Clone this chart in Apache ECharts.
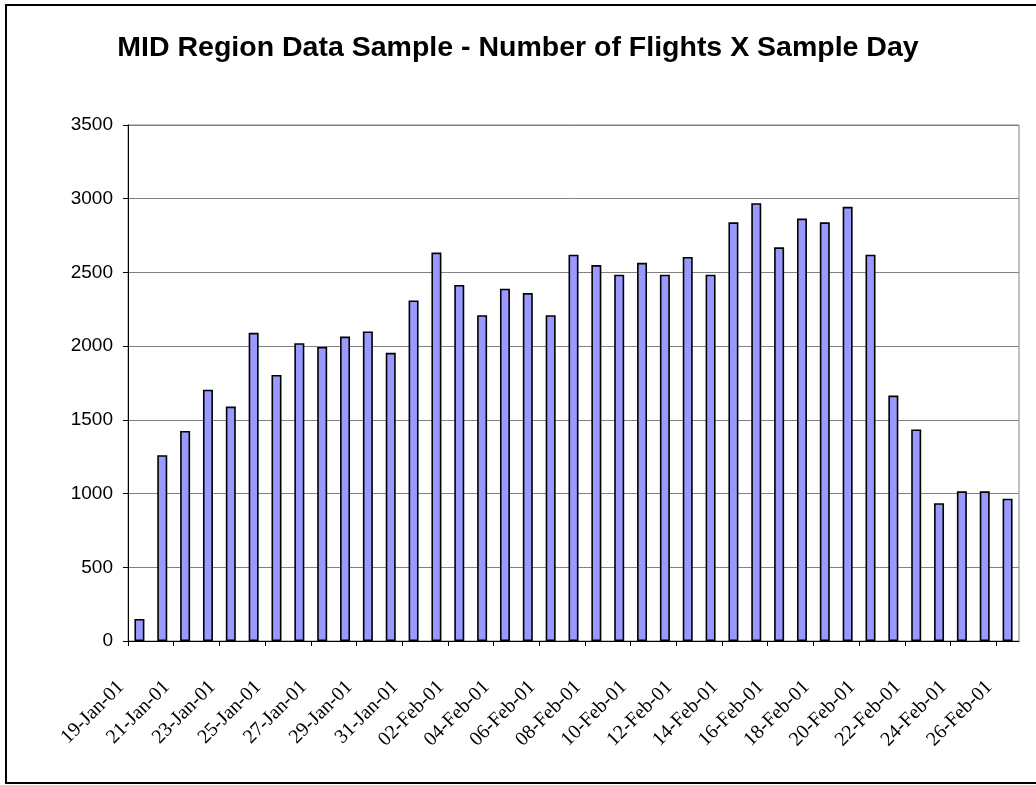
<!DOCTYPE html>
<html style="height: 100%">
    <head>
        <title>MID Region Data Sample</title>
        <meta charset="utf-8">
    </head>
    <body style="height: 100%; margin: 0; background: #fff">
        <div id="container" style="width: 1036px; height: 785px"></div>

        <script type="text/javascript" src="https://cdn.jsdelivr.net/npm/echarts@6/dist/echarts.min.js"></script>
        <script type="text/javascript">
            var dom = document.getElementById("container");
            var myChart = echarts.init(dom);

            // sample days (one bar each)
            var days = [
                '19-Jan-01', '20-Jan-01', '21-Jan-01', '22-Jan-01', '23-Jan-01', '24-Jan-01', '25-Jan-01',
                '26-Jan-01', '27-Jan-01', '28-Jan-01', '29-Jan-01', '30-Jan-01', '31-Jan-01', '01-Feb-01',
                '02-Feb-01', '03-Feb-01', '04-Feb-01', '05-Feb-01', '06-Feb-01', '07-Feb-01', '08-Feb-01',
                '09-Feb-01', '10-Feb-01', '11-Feb-01', '12-Feb-01', '13-Feb-01', '14-Feb-01', '15-Feb-01',
                '16-Feb-01', '17-Feb-01', '18-Feb-01', '19-Feb-01', '20-Feb-01', '21-Feb-01', '22-Feb-01',
                '23-Feb-01', '24-Feb-01', '25-Feb-01', '26-Feb-01'
            ];
            // tick labels sit on the day boundaries (date axis look)
            var boundaries = days.concat(['27-Feb-01']);

            var flights = [
                150, 1260, 1425, 1705, 1590, 2090, 1805, 2020, 1995, 2065,
                2100, 1955, 2310, 2635, 2415, 2210, 2390, 2360, 2210, 2620,
                2550, 2485, 2565, 2485, 2605, 2485, 2840, 2970, 2670, 2865,
                2840, 2945, 2620, 1665, 1435, 935, 1015, 1015, 965
            ];

            var option = {
                animation: false,
                title: {
                    text: 'MID Region Data Sample - Number of Flights X Sample Day',
                    left: 'center',
                    top: 29,
                    textStyle: {
                        fontFamily: 'Liberation Sans',
                        fontWeight: 'bold',
                        fontSize: 28.5,
                        color: '#000'
                    }
                },
                graphic: [{
                    type: 'rect',
                    shape: { x: 6, y: 5, width: 1040, height: 778 },
                    style: { fill: 'none', stroke: '#000', lineWidth: 2 },
                    silent: true
                }],
                grid: {
                    left: 128,
                    right: 17,
                    top: 125,
                    bottom: 144,
                    show: true,
                    borderColor: '#808080',
                    borderWidth: 1
                },
                xAxis: [{
                    type: 'category',
                    data: days,
                    boundaryGap: true,
                    axisLine: { lineStyle: { color: '#000' } },
                    axisTick: { show: false },
                    axisLabel: { show: false }
                }, {
                    type: 'category',
                    data: boundaries,
                    boundaryGap: false,
                    position: 'bottom',
                    axisLine: { show: false },
                    axisTick: { show: true, interval: 1, length: 5, lineStyle: { color: '#000' } },
                    axisLabel: {
                        interval: 1,
                        rotate: 45,
                        margin: 36,
                        padding: [0, 10, 0, 0],
                        fontFamily: 'Liberation Serif',
                        fontSize: 20,
                        color: '#000'
                    }
                }],
                yAxis: {
                    type: 'value',
                    min: 0,
                    max: 3500,
                    interval: 500,
                    axisLine: { show: true, lineStyle: { color: '#000' } },
                    axisTick: { show: true, length: 5, lineStyle: { color: '#000' } },
                    axisLabel: {
                        margin: 15,
                        formatter: function (v) { return String(v); },
                        fontFamily: 'Liberation Sans',
                        fontSize: 19,
                        color: '#000'
                    },
                    splitLine: { lineStyle: { color: '#808080', width: 1 } }
                },
                series: [{
                    type: 'bar',
                    xAxisIndex: 0,
                    data: flights,
                    barWidth: 10,
                    itemStyle: {
                        color: '#9999FF',
                        borderColor: '#000',
                        borderWidth: 1.6
                    }
                }]
            };

            myChart.setOption(option);
        </script>
    </body>
</html>
